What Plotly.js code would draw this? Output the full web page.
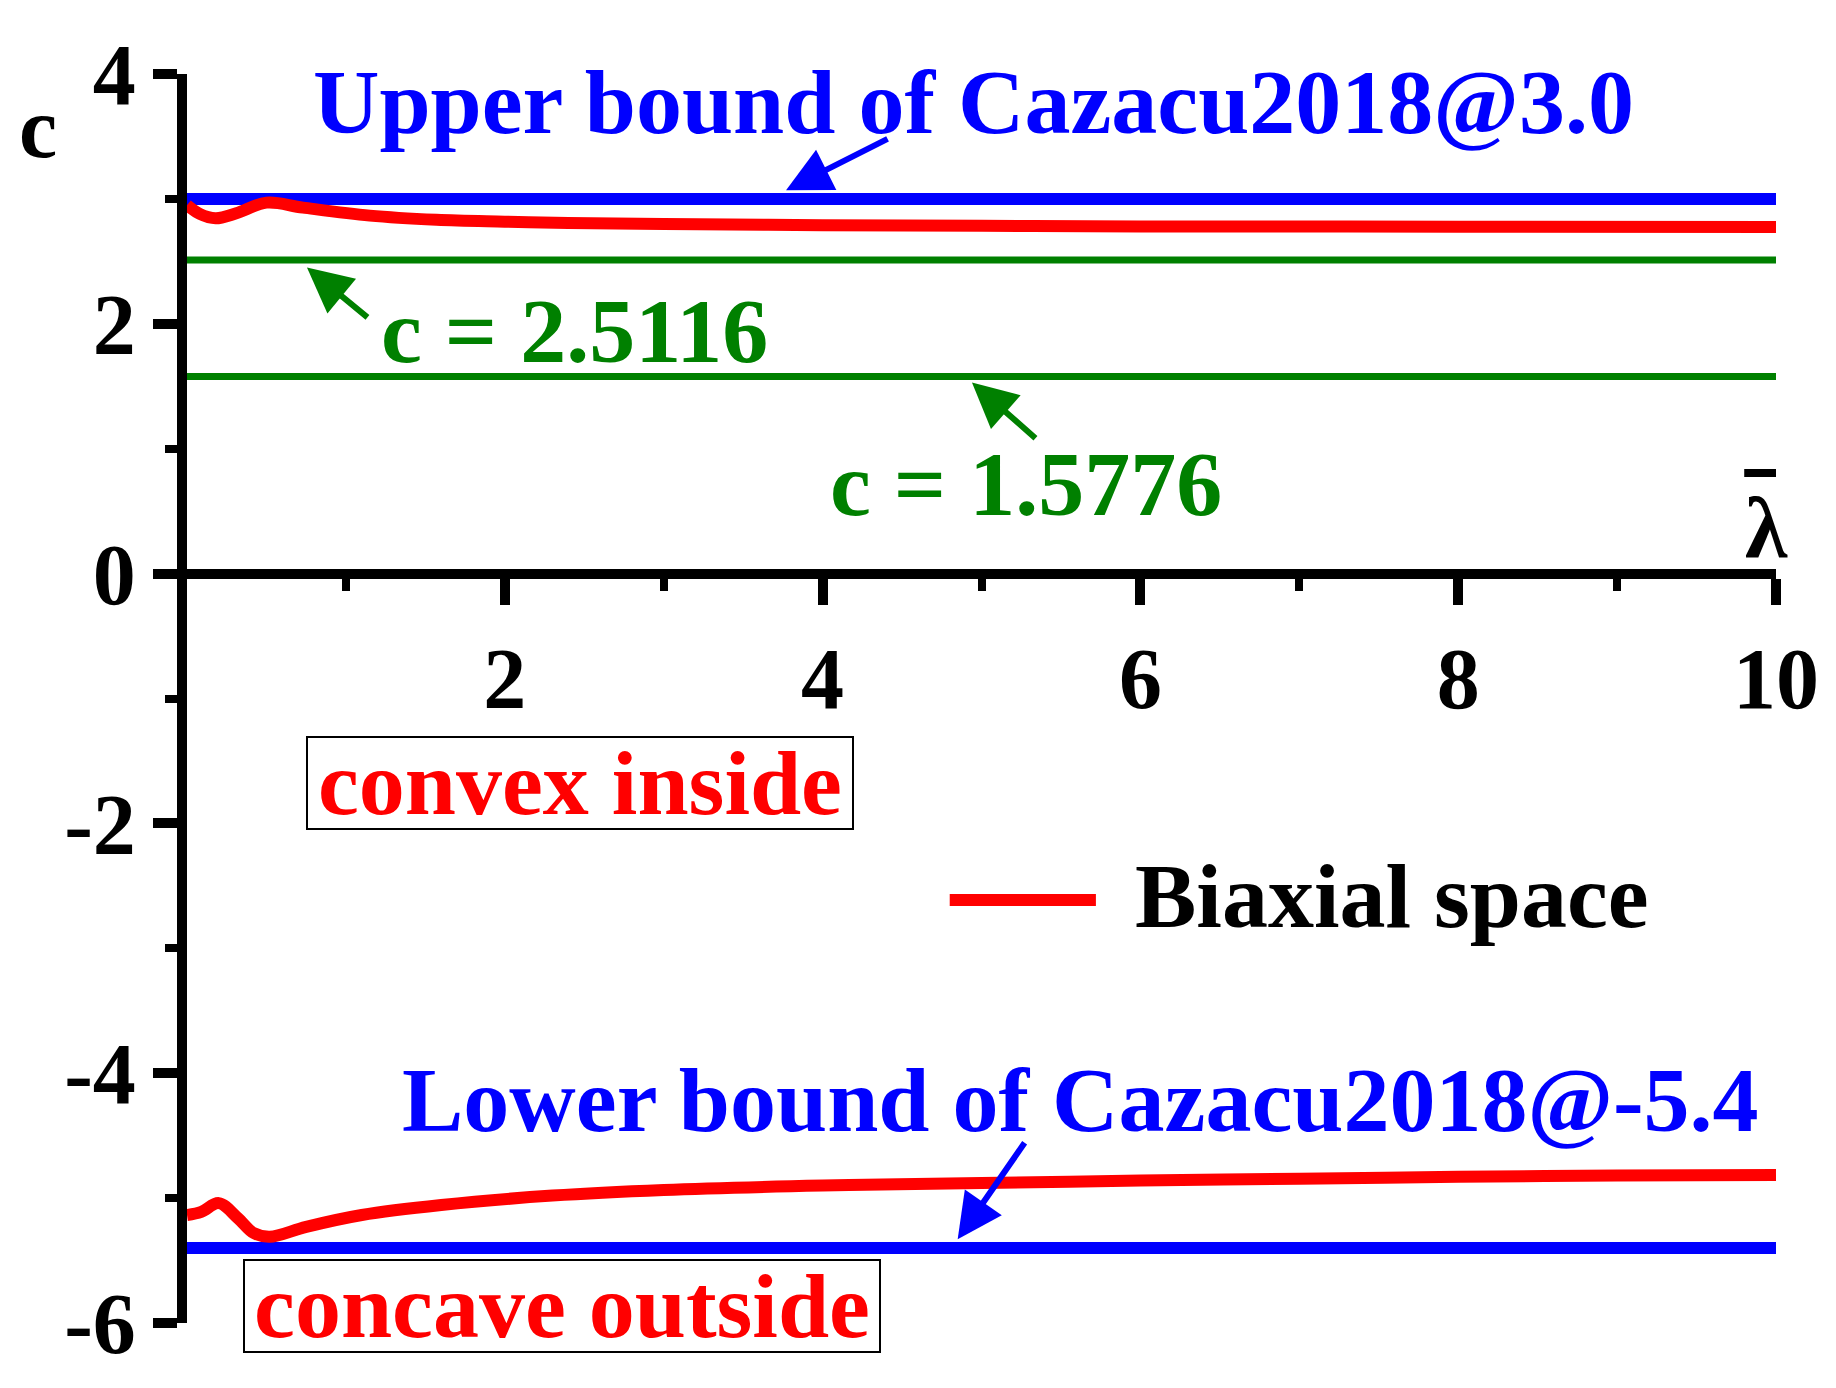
<!DOCTYPE html>
<html>
<head>
<meta charset="utf-8">
<script src="https://cdn.plot.ly/plotly-3.0.1.min.js"></script>
<style>
  html, body { margin: 0; padding: 0; background: #fff; }
  #chart { width: 1836px; height: 1388px; }
</style>
</head>
<body>
<div id="chart"></div>
<script>
'use strict';

/* ---------- data ---------- */
var lambdaRange = [0, 10];

var upperBound = 3.0;      // Cazacu2018 upper bound
var lowerBound = -5.4;     // Cazacu2018 lower bound
var cLevelA    = 2.5116;
var cLevelB    = 1.5776;

// biaxial space, convex-inside branch
var upperX = [0, 0.08, 0.18, 0.31, 0.5, 0.73, 1.15, 1.57, 2.0, 2.4, 3, 4, 5, 6, 8, 10];
var upperY = [2.95, 2.88, 2.845, 2.885, 2.97, 2.93, 2.866, 2.833, 2.818, 2.807, 2.80, 2.79, 2.785, 2.78, 2.778, 2.776];

// biaxial space, concave-outside branch
var lowerX = [0, 0.09, 0.2, 0.32, 0.42, 0.52, 0.75, 1.1, 1.6, 2.3, 3, 4, 5, 6, 7, 8, 9, 10];
var lowerY = [-5.135, -5.11, -5.04, -5.16, -5.28, -5.31, -5.23, -5.135, -5.055, -4.98, -4.935, -4.90, -4.88, -4.86, -4.845, -4.83, -4.82, -4.815];

var xTicks  = [2, 4, 6, 8, 10];
var xLabels = ['2', '4', '6', '8', '10'];
var yTicks  = [-6, -4, -2, 0, 2, 4];
var yLabels = ['-6', '-4', '-2', '0', '2', '4'];

/* ---------- styling ---------- */
var FONT  = 'Liberation Serif, Times New Roman, serif';
var BLUE  = '#0000ff';
var GREEN = '#008000';
var RED   = '#ff0000';

function hline(val, color, width) {
  return {
    x: lambdaRange, y: [val, val],
    type: 'scatter', mode: 'lines', hoverinfo: 'skip', showlegend: false,
    line: { color: color, width: width }
  };
}

function label(text, x, y, color, opts) {
  var a = {
    x: x, y: y, xref: 'x', yref: 'y', text: text, showarrow: false,
    xanchor: 'center', yanchor: 'middle',
    font: { family: FONT, size: 92, color: color, weight: 'bold' }
  };
  return Object.assign(a, opts || {});
}

function arrow(x, y, ax, ay, color) {
  return {
    x: x, y: y, xref: 'x', yref: 'y', text: '', showarrow: true,
    ax: ax, ay: ay, arrowhead: 2, arrowsize: 1.5, arrowwidth: 6,
    arrowcolor: color, standoff: 0
  };
}

var traces = [
  hline(upperBound, BLUE, 12),
  hline(lowerBound, BLUE, 12),
  hline(cLevelA, GREEN, 7),
  hline(cLevelB, GREEN, 7),
  { x: upperX, y: upperY, name: 'Biaxial space', type: 'scatter', mode: 'lines',
    line: { color: RED, width: 12, shape: 'spline', smoothing: 1 }, showlegend: false },
  { x: lowerX, y: lowerY, name: 'Biaxial space', type: 'scatter', mode: 'lines',
    line: { color: RED, width: 12, shape: 'spline', smoothing: 1 }, showlegend: false }
];

var titleFont = { family: FONT, size: 86, color: '#000', weight: 'bold' };

var annotations = [
  label('Upper bound of Cazacu2018@3.0', 4.95, 3.776, BLUE),
  label('c = 2.5116', 2.44, 1.942, GREEN),
  label('c = 1.5776', 5.28, 0.717, GREEN),
  label('Lower bound of Cazacu2018@-5.4', 5.62, -4.215, BLUE),
  label('convex inside', 2.473, -1.677, RED,
        { width: 540, height: 86, borderpad: 2, bordercolor: '#000', borderwidth: 2 }),
  label('concave outside', 2.36, -5.864, RED,
        { width: 630, height: 86, borderpad: 2, bordercolor: '#000', borderwidth: 2 }),
  label('Biaxial space', 5.953, -2.581, '#000', { xanchor: 'left' }),
  /* axis titles */
  label('c', -0.0938, 0.957, '#000', { xref: 'paper', yref: 'paper', font: titleFont }),
  label('λ', 9.943, 0.365, '#000', { font: titleFont }),
  /* pointers */
  arrow(3.77, 3.07, 103, -52, BLUE),
  arrow(0.755, 2.45, 62, 51, GREEN),
  arrow(4.94, 1.53, 65, 57, GREEN),
  arrow(4.85, -5.33, 68, -98, BLUE)
];

var shapes = [
  /* legend key */
  { type: 'line', xref: 'x', yref: 'y', x0: 4.80, x1: 5.72, y0: -2.613, y1: -2.613,
    line: { color: RED, width: 12 } },
  /* overbar of the lambda title */
  { type: 'line', xref: 'x', yref: 'y', x0: 9.80, x1: 10.09, y0: 0.805, y1: 0.805,
    line: { color: '#000', width: 8 } }
];

var tickFont = { family: FONT, size: 86, color: '#000', weight: 'bold' };

var layout = {
  width: 1836, height: 1388,
  paper_bgcolor: '#fff', plot_bgcolor: '#fff',
  margin: { l: 187, r: 60, t: 74, b: 65 },
  showlegend: false,
  xaxis: {
    range: lambdaRange, anchor: 'free', position: 0.6,
    showgrid: false, zeroline: false,
    showline: true, linecolor: '#000', linewidth: 10,
    ticks: 'outside', ticklen: 26, tickwidth: 10, tickcolor: '#000',
    tickvals: xTicks, ticktext: xLabels, tickfont: tickFont,
    minor: { ticks: 'outside', ticklen: 12, tickwidth: 8, tickcolor: '#000',
             tickmode: 'array', tickvals: [1, 3, 5, 7, 9], showgrid: false }
  },
  yaxis: {
    range: [-6, 4],
    showgrid: false, zeroline: false,
    showline: true, linecolor: '#000', linewidth: 10,
    ticks: 'outside', ticklen: 24, tickwidth: 10, tickcolor: '#000',
    tickvals: yTicks, ticktext: yLabels, tickfont: tickFont,
    minor: { ticks: 'outside', ticklen: 12, tickwidth: 8, tickcolor: '#000',
             tickmode: 'array', tickvals: [-5, -3, -1, 1, 3], showgrid: false }
  },
  annotations: annotations,
  shapes: shapes
};

Plotly.newPlot('chart', traces, layout, { displayModeBar: false, staticPlot: true });
</script>
</body>
</html>
